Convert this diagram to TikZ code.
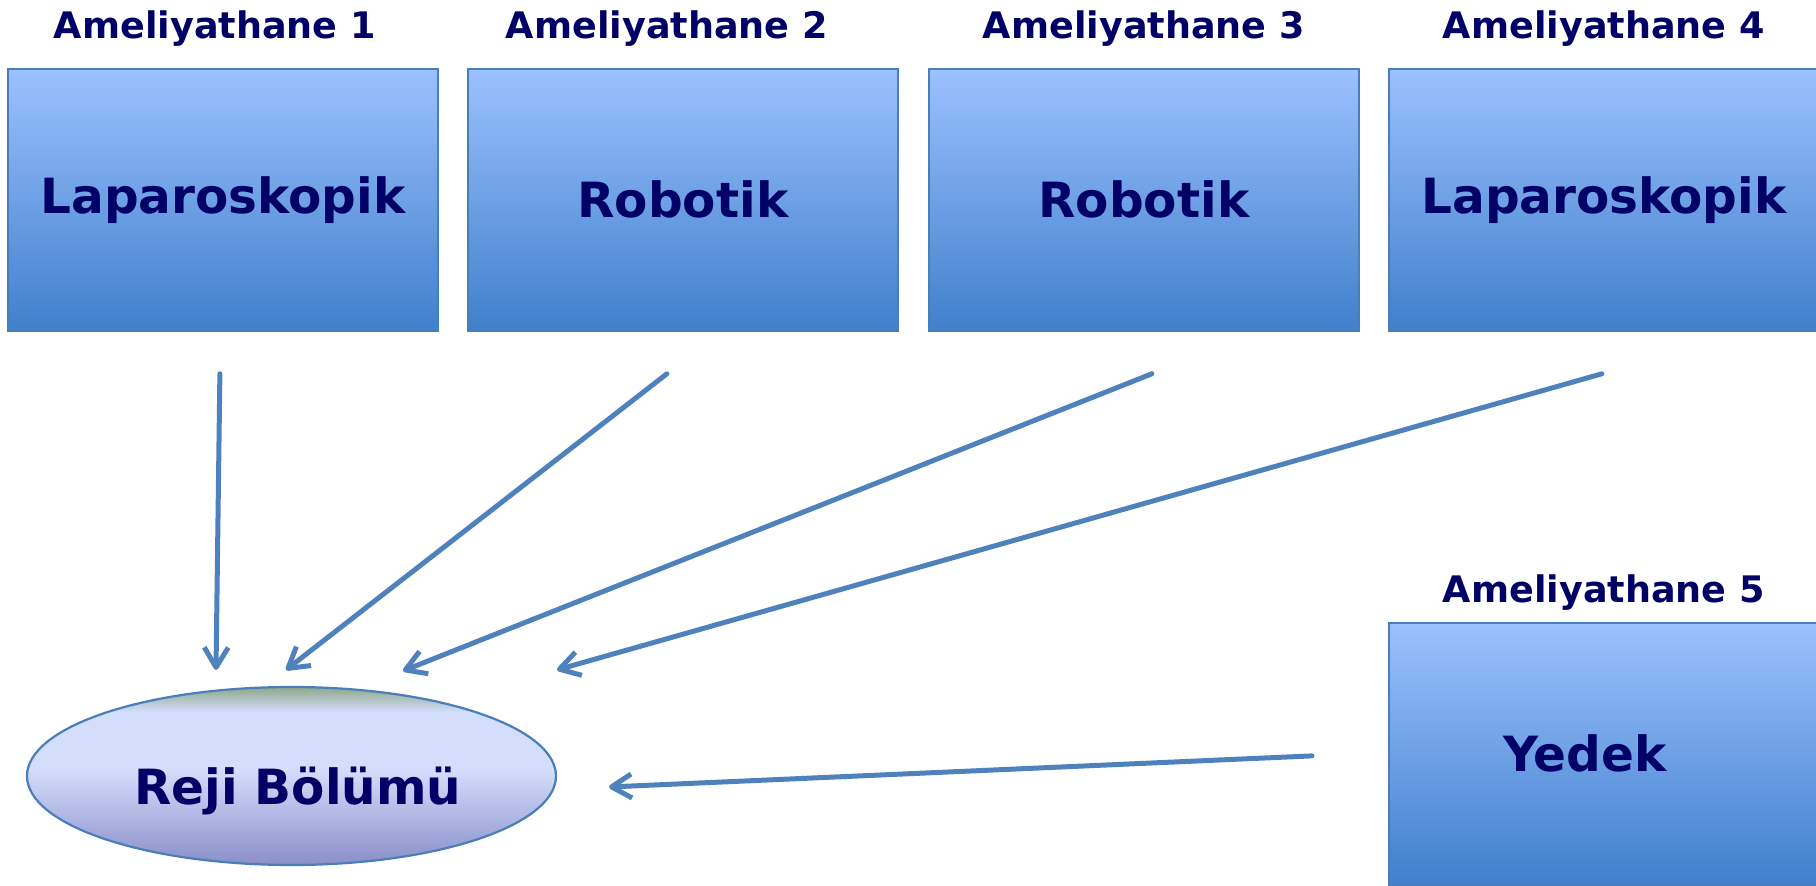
\documentclass[tikz,border=0pt]{standalone}
\usepackage{fontspec}
\setmainfont{DejaVu Sans}
\usetikzlibrary{arrows.meta,shapes.geometric}

\definecolor{navytext}{RGB}{0,0,102}
\definecolor{roomtop}{HTML}{9BC1FE}
\definecolor{roombottom}{HTML}{4080CC}
\definecolor{roomedge}{HTML}{4A7EBB}
\definecolor{linkblue}{HTML}{4F81BD}
\definecolor{rejitop}{HTML}{8FA78A}
\definecolor{rejimid}{HTML}{D3DEFD}
\definecolor{rejibottom}{HTML}{8A8FC8}

\pgfdeclareverticalshading{rejishade}{100bp}{color(0bp)=(rejibottom); color(25bp)=(rejibottom); color(52bp)=(rejimid); color(68bp)=(rejimid); color(75bp)=(rejitop); color(100bp)=(rejitop)}

\tikzset{
	room/.style={draw=roomedge, line width=0.18mm, top color=roomtop, bottom color=roombottom, minimum width=43mm, minimum height=26.2mm, inner sep=0pt, anchor=north west, text=navytext, font=\bfseries\fontsize{13.8}{16}\selectfont},
	roomname/.style={text=navytext, font=\bfseries\fontsize{10.4}{12}\selectfont, inner sep=0pt, anchor=base},
	roomtype/.style={text=navytext, font=\bfseries\fontsize{13.8}{16}\selectfont, inner sep=0pt},
	link/.style={draw=linkblue, line width=0.5mm, line cap=round, -{Straight Barb[length=2mm,width=2.4mm,line join=round]}}
}

\begin{document}
\begin{tikzpicture}[x=0.1mm, y=-0.1mm]
	\useasboundingbox (0,0) rectangle (1816,886);

	\node[room] (b1) at (7,68) {Laparoskopik};
	\node[room] (b2) at (467,68) {Robotik};
	\node[room] (b3) at (928,68) {Robotik};
	\node[room] (b4) at (1388,68) {Laparoskopik};
	\node[room] (b5) at (1388,622) {};
	\node[roomtype] (l5) at ([xshift=-1.9mm]b5.center) {Yedek};

	\node[roomname] (t1) at ([xshift=-0.8mm, yshift=2.9mm]b1.north) {Ameliyathane 1};
	\node[roomname] (t2) at ([xshift=-1.6mm, yshift=2.9mm]b2.north) {Ameliyathane 2};
	\node[roomname] (t3) at ([yshift=2.9mm]b3.north) {Ameliyathane 3};
	\node[roomname] (t4) at ([yshift=2.9mm]b4.north) {Ameliyathane 4};
	\node[roomname] (t5) at ([yshift=1.9mm]b5.north) {Ameliyathane 5};

	\node[ellipse, draw=roomedge, line width=0.22mm, shade, shading=rejishade, minimum width=52.9mm, minimum height=17.8mm, inner sep=0pt] (rb) at (291.5,776) {};
	\node[roomtype] (rl) at ([shift={(6.5,14.5)}]rb.center) {Reji Bölümü};

	\draw[link] ([shift={(-3,42)}]b1.south) -- ([shift={(-75.5,-16)}]rb.north);
	\draw[link] ([shift={(-16,42)}]b2.south) -- ([shift={(-5.5,-16)}]rb.north);
	\draw[link] ([shift={(8,42)}]b3.south) -- ([shift={(111.5,-15)}]rb.north);
	\draw[link] ([shift={(-2,42)}]b4.south) -- ([shift={(265.5,-16)}]rb.north);
	\draw[link] ([shift={(-76,2)}]b5.west) -- ([shift={(52,11)}]rb.east);

\end{tikzpicture}
\end{document}
